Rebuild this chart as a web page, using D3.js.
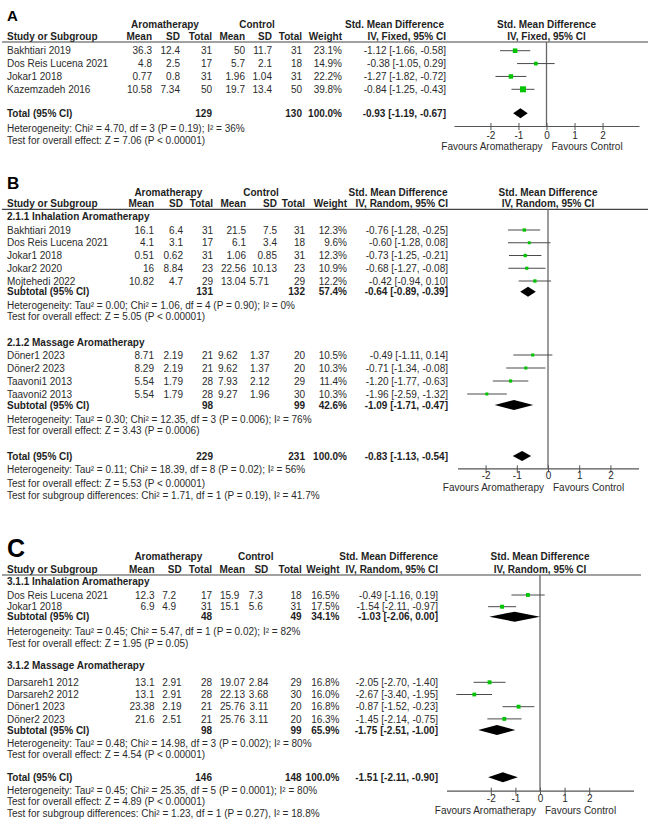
<!DOCTYPE html>
<html><head><meta charset="utf-8">
<script src="https://cdn.jsdelivr.net/npm/d3@7"></script>
<style>
body{margin:0;background:#fff;}
text{font-family:"Liberation Sans",Arial,sans-serif;}
</style></head><body>
<svg id="chart" width="670" height="836"></svg>
<script>
// Row columns: study, aroma mean, aroma SD, aroma N, control mean, control SD, control N, weight %, SMD, lower, upper
const rowsA = [
  ["Bakhtiari  2019", 36.3, 12.4, 31, 50, 11.7, 31, 23.1, -1.12, -1.66, -0.58],
  ["Dos Reis Lucena 2021", 4.8, 2.5, 17, 5.7, 2.1, 18, 14.9, -0.38, -1.05, 0.29],
  ["Jokar1 2018", 0.77, 0.8, 31, 1.96, 1.04, 31, 22.2, -1.27, -1.82, -0.72],
  ["Kazemzadeh 2016", 10.58, 7.34, 50, 19.7, 13.4, 50, 39.8, -0.84, -1.25, -0.43]
];
// total: aroma N, control N, weight, SMD, lower, upper
const totalA = [129, 130, 100.0, -0.93, -1.19, -0.67];
const statsA = ["Heterogeneity: Chi\u00b2 = 4.70, df = 3 (P = 0.19); I\u00b2 = 36%",
                "Test for overall effect: Z = 7.06 (P < 0.00001)"];

const rowsB1 = [
  ["Bakhtiari  2019", 16.1, 6.4, 31, 21.5, 7.5, 31, 12.3, -0.76, -1.28, -0.25],
  ["Dos Reis Lucena 2021", 4.1, 3.1, 17, 6.1, 3.4, 18, 9.6, -0.60, -1.28, 0.08],
  ["Jokar1 2018", 0.51, 0.62, 31, 1.06, 0.85, 31, 12.3, -0.73, -1.25, -0.21],
  ["Jokar2 2020", 16, 8.84, 23, 22.56, 10.13, 23, 10.9, -0.68, -1.27, -0.08],
  ["Mojtehedi 2022", 10.82, 4.7, 29, 13.04, 5.71, 29, 12.2, -0.42, -0.94, 0.10]
];
const subB1 = [131, 132, 57.4, -0.64, -0.89, -0.39];
const statsB1 = ["Heterogeneity: Tau\u00b2 = 0.00; Chi\u00b2 = 1.06, df = 4 (P = 0.90); I\u00b2 = 0%",
                 "Test for overall effect: Z = 5.05 (P < 0.00001)"];
const rowsB2 = [
  ["D\u00f6ner1 2023", 8.71, 2.19, 21, 9.62, 1.37, 20, 10.5, -0.49, -1.11, 0.14],
  ["D\u00f6ner2 2023", 8.29, 2.19, 21, 9.62, 1.37, 20, 10.3, -0.71, -1.34, -0.08],
  ["Taavoni1 2013", 5.54, 1.79, 28, 7.93, 2.12, 29, 11.4, -1.20, -1.77, -0.63],
  ["Taavoni2 2013", 5.54, 1.79, 28, 9.27, 1.96, 30, 10.3, -1.96, -2.59, -1.32]
];
const subB2 = [98, 99, 42.6, -1.09, -1.71, -0.47];
const statsB2 = ["Heterogeneity: Tau\u00b2 = 0.30; Chi\u00b2 = 12.35, df = 3 (P = 0.006); I\u00b2 = 76%",
                 "Test for overall effect: Z = 3.43 (P = 0.0006)"];
const totalB = [229, 231, 100.0, -0.83, -1.13, -0.54];
const statsB = ["Heterogeneity: Tau\u00b2 = 0.11; Chi\u00b2 = 18.39, df = 8 (P = 0.02); I\u00b2 = 56%",
                "Test for overall effect: Z = 5.53 (P < 0.00001)",
                "Test for subgroup differences: Chi\u00b2 = 1.71, df = 1 (P = 0.19), I\u00b2 = 41.7%"];

const rowsC1 = [
  ["Dos Reis Lucena 2021", 12.3, 7.2, 17, 15.9, 7.3, 18, 16.5, -0.49, -1.16, 0.19],
  ["Jokar1 2018", 6.9, 4.9, 31, 15.1, 5.6, 31, 17.5, -1.54, -2.11, -0.97]
];
const subC1 = [48, 49, 34.1, -1.03, -2.06, 0.00];
const statsC1 = ["Heterogeneity: Tau\u00b2 = 0.45; Chi\u00b2 = 5.47, df = 1 (P = 0.02); I\u00b2 = 82%",
                 "Test for overall effect: Z = 1.95 (P = 0.05)"];
const rowsC2 = [
  ["Darsareh1 2012", 13.1, 2.91, 28, 19.07, 2.84, 29, 16.8, -2.05, -2.70, -1.40],
  ["Darsareh2 2012", 13.1, 2.91, 28, 22.13, 3.68, 30, 16.0, -2.67, -3.40, -1.95],
  ["D\u00f6ner1 2023", 23.38, 2.19, 21, 25.76, 3.11, 20, 16.8, -0.87, -1.52, -0.23],
  ["D\u00f6ner2 2023", 21.6, 2.51, 21, 25.76, 3.11, 20, 16.3, -1.45, -2.14, -0.75]
];
const subC2 = [98, 99, 65.9, -1.75, -2.51, -1.00];
const statsC2 = ["Heterogeneity: Tau\u00b2 = 0.48; Chi\u00b2 = 14.98, df = 3 (P = 0.002); I\u00b2 = 80%",
                 "Test for overall effect: Z = 4.54 (P < 0.00001)"];
const totalC = [146, 148, 100.0, -1.51, -2.11, -0.90];
const statsC = ["Heterogeneity: Tau\u00b2 = 0.45; Chi\u00b2 = 25.35, df = 5 (P = 0.0001); I\u00b2 = 80%",
                "Test for overall effect: Z = 4.89 (P < 0.00001)",
                "Test for subgroup differences: Chi\u00b2 = 1.23, df = 1 (P = 0.27), I\u00b2 = 18.8%"];

const tickValues = [-2, -1, 0, 1, 2];
const favLeft = "Favours Aromatherapy", favRight = "Favours Control";

// ---------------------------------------------------------------
const svg = d3.select("#chart");
const TXT = "#2b2b2b", HDR = "#1e1e1e";
const GREEN = "#00c400", CI = "#4a4a4a", AXIS = "#555";
const DIGIT = 5.56;

function T(x, y, s, o = {}) {
  return svg.append("text").attr("x", x).attr("y", y + (o.size ? o.size * 0.36 : 3.6))
    .attr("text-anchor", o.anchor || "start")
    .attr("font-size", o.size || 10).attr("font-weight", o.bold ? "bold" : "normal")
    .attr("fill", o.fill || (o.bold ? HDR : TXT)).text(s);
}
const f2 = v => v.toFixed(2);
const ci = r => `${f2(r[0])} [${f2(r[1])}, ${f2(r[2])}]`;
const decimals = v => { const s = String(v); const i = s.indexOf("."); return i < 0 ? 0 : s.length - i - 1; };

function drawPanel(L) {
  const x = d3.scaleLinear().domain(L.domain).range(L.range);
  const c = L.cols;
  svg.append("text").attr("x", 7).attr("y", L.letterY).attr("font-size", L.letterSize)
    .attr("font-weight", "bold").attr("fill", "#000").text(L.letter);
  // header
  T(L.aromaX, L.h1, "Aromatherapy", {bold: true, anchor: "middle"});
  T(L.ctrlX, L.h1, "Control", {bold: true, anchor: "middle"});
  T(L.smdHdrX, L.h1, "Std. Mean Difference", {bold: true, anchor: "middle"});
  T(x(0), L.h1, "Std. Mean Difference", {bold: true, anchor: "middle"});
  T(7, L.h2, "Study or Subgroup", {bold: true});
  [["Mean", c.m], ["SD", c.sd], ["Total", c.n], ["Mean", c.cm], ["SD", c.csd], ["Total", c.cn], ["Weight", c.w]]
    .forEach(([s, cx]) => T(cx, L.h2, s, {bold: true, anchor: "end"}));
  T(c.smd, L.h2, L.method, {bold: true, anchor: "end"});
  T(x(0), L.h2, L.method, {bold: true, anchor: "middle"});
  svg.append("line").attr("x1", 2).attr("x2", L.lineEnd).attr("y1", L.line).attr("y2", L.line)
    .attr("stroke", "#444").attr("stroke-width", 1.2);
  // zero line
  svg.append("line").attr("x1", x(0)).attr("x2", x(0)).attr("y1", L.line).attr("y2", L.axisY)
    .attr("stroke", "#666").attr("stroke-width", 1.3);

  function diamond(r, y) {
    const h = 5;
    svg.append("path").attr("d", `M${x(r[4])},${y}L${x(r[3])},${y - h}L${x(r[5])},${y}L${x(r[3])},${y + h}Z`)
      .attr("fill", "#000");
  }
  function summary(r, y, label) {
    T(7, y, label, {bold: true});
    T(c.n, y, String(r[0]), {bold: true, anchor: "end"});
    T(c.cn, y, String(r[1]), {bold: true, anchor: "end"});
    T(c.w, y, r[2].toFixed(1) + "%", {bold: true, anchor: "end"});
    T(c.smd, y, ci(r.slice(3)), {bold: true, anchor: "end"});
    diamond(r, y);
  }
  const keys = ["m", "sd", "n", "cm", "csd", "cn"];
  L.groups.forEach(g => {
    if (g.title) T(7, g.titleY, g.title, {bold: true});
    const gc = Object.assign({}, c, g.cols || {});
    g.rows.forEach((r, i) => {
      const y = g.y0 + i * g.step;
      const rc = Object.assign({}, gc, (g.rowCols || {})[i] || {});
      T(7, y, r[0]);
      keys.forEach((k, j) => {
        const v = r[j + 1];
        let cx = rc[k];
        if (L.dec && L.dec.includes(k)) cx -= (2 - decimals(v)) * DIGIT;
        T(cx, y, String(v), {anchor: "end"});
      });
      T(c.w, y, r[7].toFixed(1) + "%", {anchor: "end"});
      T(c.smd, y, ci(r.slice(8)), {anchor: "end"});
      svg.append("line").attr("x1", x(r[9])).attr("x2", x(r[10])).attr("y1", y).attr("y2", y)
        .attr("stroke", CI).attr("stroke-width", 1);
      const s = Math.sqrt(r[7]) * 0.95;
      svg.append("rect").attr("x", x(r[8]) - s / 2).attr("y", y - s / 2).attr("width", s).attr("height", s)
        .attr("fill", GREEN);
    });
    if (g.sub) summary(g.sub, g.subY, "Subtotal (95% CI)");
    if (g.stats) g.stats.forEach((s, i) => T(7, g.statY[i], s));
  });
  summary(L.total, L.totalY, "Total (95% CI)");
  L.stats.forEach((s, i) => T(7, L.statY[i], s));

  // axis
  const ax = svg.append("g").attr("transform", `translate(0,${L.axisY})`)
    .call(d3.axisBottom(x).tickValues(tickValues).tickSize(4).tickSizeOuter(0).tickPadding(L.tickPad)
      .tickFormat(d => String(d)));
  ax.select(".domain").attr("stroke", AXIS).attr("stroke-width", 1.2);
  ax.selectAll(".tick line").attr("stroke", AXIS).attr("y1", -3);
  ax.selectAll(".tick text").attr("font-size", 10).attr("fill", TXT)
    .attr("font-family", "'Liberation Sans', Arial, sans-serif");
  T(x(0) - 4, L.favY, favLeft, {anchor: "end"});
  T(x(0) + 5, L.favY, favRight, {anchor: "start"});
}

drawPanel({
  letter: "A", letterY: 21, letterSize: 15,
  h1: 24, h2: 36, line: 42, lineEnd: 648,
  aromaX: 165, ctrlX: 257, smdHdrX: 394.5, method: "IV, Fixed, 95% CI",
  cols: {m: 152, sd: 180, n: 212, cm: 245, csd: 272, cn: 302, w: 342, smd: 446},
  domain: [-3.3, 3.3], range: [454, 639], axisY: 126, tickPad: 1.5, favY: 146.5,
  groups: [{rows: rowsA, y0: 50.7, step: 12.87}],
  total: totalA, totalY: 113.3, stats: statsA, statY: [128.3, 140]
});

drawPanel({
  letter: "B", letterY: 189, letterSize: 17,
  h1: 192, h2: 203.3, line: 209.3, lineEnd: 648,
  aromaX: 168.3, ctrlX: 261, smdHdrX: 398, method: "IV, Random, 95% CI",
  cols: {m: 154, sd: 183, n: 213, cm: 246, csd: 277, cn: 305, w: 347, smd: 448},
  domain: [-2.9, 2.9], range: [457.5, 638.5], axisY: 468.3, tickPad: 0, favY: 487.5,
  groups: [
    {title: "2.1.1 Inhalation Aromatherapy", titleY: 216.7, rows: rowsB1, y0: 230, step: 12.75,
     rowCols: {4: {csd: 269}},
     sub: subB1, subY: 291.7, stats: statsB1, statY: [305.7, 316]},
    {title: "2.1.2 Massage Aromatherapy", titleY: 342.7, rows: rowsB2, y0: 355, step: 13,
     cols: {cm: 237.5, csd: 269.5},
     sub: subB2, subY: 405, stats: statsB2, statY: [419, 430]}
  ],
  total: totalB, totalY: 456, stats: statsB, statY: [469.3, 483.3, 495]
});

drawPanel({
  letter: "C", letterY: 557, letterSize: 25,
  h1: 556.7, h2: 569.3, line: 575, lineEnd: 641,
  aromaX: 168.3, ctrlX: 255.7, smdHdrX: 388.7, method: "IV, Random, 95% CI",
  cols: {m: 154.5, sd: 181.7, n: 212, cm: 245, csd: 268.3, cn: 301.7, w: 339.5, smd: 438},
  dec: ["sd", "cm", "csd"],
  domain: [-3.8, 3.8], range: [446.5, 633.5], axisY: 790.7, tickPad: 0, favY: 810,
  groups: [
    {title: "3.1.1 Inhalation Aromatherapy", titleY: 581, rows: rowsC1, y0: 595, step: 11.7,
     sub: subC1, subY: 616.7, stats: statsC1, statY: [631.7, 643.3]},
    {title: "3.1.2 Massage Aromatherapy", titleY: 665, rows: rowsC2, y0: 682.3, step: 12.2,
     sub: subC2, subY: 730, stats: statsC2, statY: [743.3, 754]}
  ],
  total: totalC, totalY: 777.3, stats: statsC, statY: [790, 801.7, 813.3]
});
</script>
</body></html>
